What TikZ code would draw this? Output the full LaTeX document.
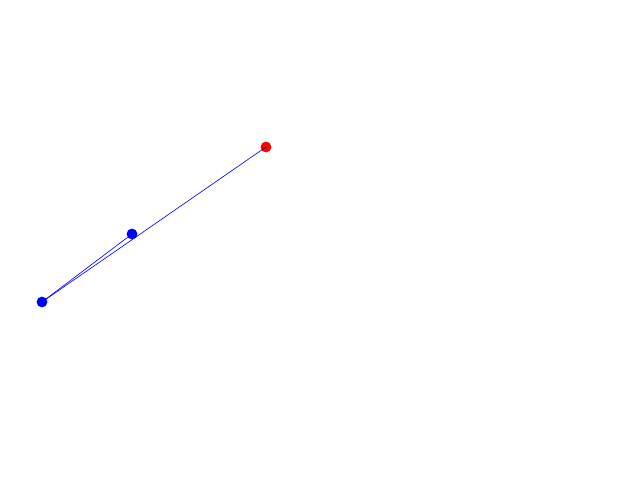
\documentclass[tikz,border=0pt]{standalone}
\usepackage{tikz}
\usetikzlibrary{calc}

\begin{document}
\begin{tikzpicture}
			\tikzstyle{bluedot}=[
			circle,
			fill=blue,
			inner sep=0pt,
			minimum size=0.27cm
			]
			\tikzstyle{reddot}=[
			circle,
			fill=red,
			inner sep=0pt,
			minimum size=0.27cm
			]
			\tikzstyle{link}=[
			draw=blue,
			line width=0.45pt
			]
			\useasboundingbox (0,0) rectangle (16,12);
			\node[bluedot] (START) at (1.05,4.45) {};
			\node[bluedot] (MID) at (3.3,6.15) {};
			\node[reddot] (GOAL) at (6.65,8.325) {};
			\path[link] (START.center) -- (MID.center);
			\path[link] (START.center) -- (GOAL.center);
		\end{tikzpicture}
\end{document}
